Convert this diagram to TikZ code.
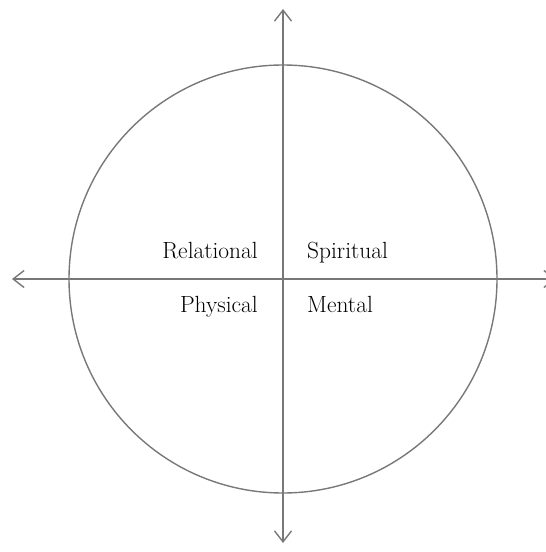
\documentclass[tikz,border=0pt]{standalone}
\usetikzlibrary{arrows.meta}
\definecolor{axisgray}{HTML}{787878}
\begin{document}
\begin{tikzpicture}[x=1bp,y=-1bp,
  axis/.style={draw=axisgray,line width=1.4bp,-{Straight Barb[length=11bp,width=17bp,line width=1.4bp]}},
  ring/.style={draw=axisgray,line width=1.4bp},
  lab/.style={font=\fontsize{23.5}{26}\selectfont,inner sep=0pt}]
\useasboundingbox (0,0) rectangle (546,552);
\coordinate (c) at (283,279);
\coordinate (l) at (12,279);
\coordinate (r) at (556,279);
\coordinate (t) at (283,9);
\coordinate (b) at (283,543);
\draw[ring] (c) circle[radius=214];
\draw[axis] (c) -- (l);
\draw[axis] (c) -- (r);
\draw[axis] (c) -- (t);
\draw[axis] (c) -- (b);
\node[lab,anchor=base east] (rel) at (258,258) {Relational};
\node[lab,anchor=base west] (spi) at (307,258) {Spiritual};
\node[lab,anchor=base east] (phy) at (258,312) {Physical};
\node[lab,anchor=base west] (men) at (307,312) {Mental};
\end{tikzpicture}
\end{document}
